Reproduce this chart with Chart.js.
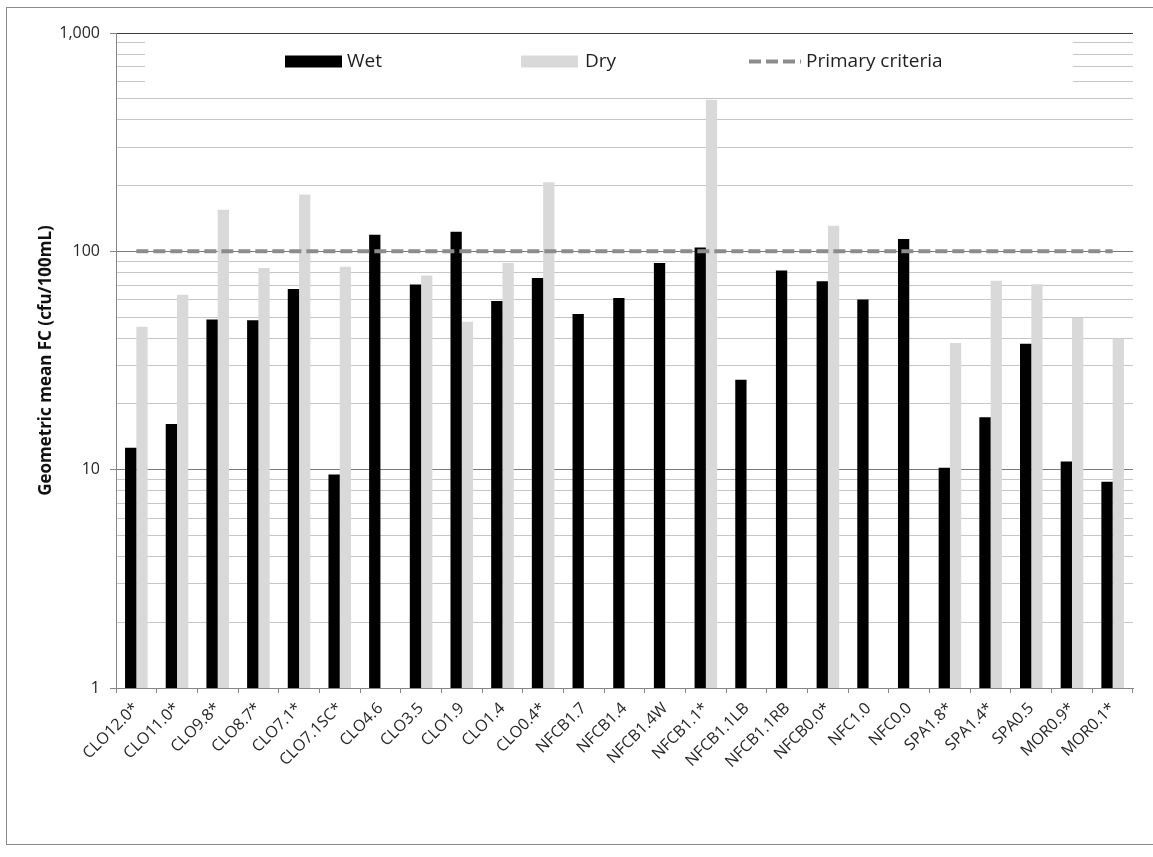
<!DOCTYPE html>
<html>
<head>
<meta charset="utf-8">
<title>Geometric mean FC by site</title>
<script src="https://cdn.jsdelivr.net/npm/chart.js@4.4.1/dist/chart.umd.min.js"></script>
<style>
  html, body { margin: 0; padding: 0; background: #fff; }
  #wrap { width: 1153px; height: 857px; }
</style>
</head>
<body>
<div id="wrap"><canvas id="chart" width="1153" height="857"></canvas></div>
<script>
// Sampling sites along the x axis
const sites = [
  'CLO12.0*', 'CLO11.0*', 'CLO9.8*', 'CLO8.7*', 'CLO7.1*', 'CLO7.1SC*', 'CLO4.6',
  'CLO3.5', 'CLO1.9', 'CLO1.4', 'CLO0.4*', 'NFCB1.7', 'NFCB1.4', 'NFCB1.4W',
  'NFCB1.1*', 'NFCB1.1LB', 'NFCB1.1RB', 'NFCB0.0*', 'NFC1.0', 'NFC0.0',
  'SPA1.8*', 'SPA1.4*', 'SPA0.5', 'MOR0.9*', 'MOR0.1*'
];

// Geometric mean fecal coliform, cfu/100mL
const wet = [
  12.6, 16.2, 48.7, 48.3, 67.3, 9.5, 119,
  70.4, 123, 59.3, 75.5, 51.7, 61.2, 88.5,
  104, 25.8, 81.8, 72.9, 60.1, 114,
  10.2, 17.4, 37.7, 10.9, 8.8
];
const dry = [
  45.1, 63.3, 155, 83.9, 182, 84.9, null,
  77.4, 47.6, 88.5, 207, null, null, null,
  495, null, null, 131, null, null,
  38.0, 73.4, 70.6, 49.5, 39.8
];

// Primary contact criterion (geometric mean, cfu/100mL)
const criteria = sites.map(() => 100);

// Labelled decades on the log axis
const yTickLabels = [1, 10, 100, 1000];

const FONT = '"Open Sans", Lato, "Liberation Sans", sans-serif';

// Full set of log gridline values: 1..9 within each labelled decade
function logGridValues(decades) {
  const out = [];
  for (let i = 0; i < decades.length - 1; i++) {
    for (let m = 1; m < 10; m++) out.push(m * decades[i]);
  }
  out.push(decades[decades.length - 1]);
  return out;
}
const isDecade = v => yTickLabels.includes(v);

// White page with a thin frame around the chart
const framePlugin = {
  id: 'frame',
  beforeDraw(chart) {
    const ctx = chart.ctx;
    ctx.save();
    ctx.fillStyle = '#ffffff';
    ctx.fillRect(0, 0, chart.width, chart.height);
    ctx.strokeStyle = '#8a8a8a';
    ctx.lineWidth = 1;
    ctx.strokeRect(6.5, 7.5, chart.width + 20, 837);
    ctx.restore();
  }
};

// Legend drawn on a white panel inside the top of the plot area
const insetLegend = {
  id: 'insetLegend',
  beforeDatasetsDraw(chart) {
    const ctx = chart.ctx;
    const area = chart.chartArea;
    const ds = chart.data.datasets;
    ctx.save();
    ctx.fillStyle = '#ffffff';
    ctx.fillRect(area.left + 29, area.top + 4, area.right - area.left - 89, 52);

    const y = area.top + 28.5;
    ctx.font = '19px ' + FONT;
    ctx.textBaseline = 'middle';
    ctx.textAlign = 'left';

    // Wet
    ctx.fillStyle = ds[0].backgroundColor;
    ctx.fillRect(285, y - 6, 57, 12);
    ctx.fillStyle = '#1f1f1f';
    ctx.fillText(ds[0].label, 347, y);

    // Dry
    ctx.fillStyle = ds[1].backgroundColor;
    ctx.fillRect(521, y - 6, 57, 12);
    ctx.fillStyle = '#1f1f1f';
    ctx.fillText(ds[1].label, 585, y);

    // Criteria line sample
    ctx.strokeStyle = ds[2].borderColor;
    ctx.lineWidth = ds[2].borderWidth;
    ctx.setLineDash(ds[2].borderDash);
    ctx.beginPath();
    ctx.moveTo(749, y);
    ctx.lineTo(801, y);
    ctx.stroke();
    ctx.setLineDash([]);
    ctx.fillText(ds[2].label, 806, y);
    ctx.restore();
  }
};

new Chart(document.getElementById('chart'), {
  data: {
    labels: sites,
    datasets: [
      {
        type: 'bar', label: 'Wet', data: wet,
        backgroundColor: '#000000',
        barPercentage: 1.0, categoryPercentage: 0.555, order: 2
      },
      {
        type: 'bar', label: 'Dry', data: dry,
        backgroundColor: '#d9d9d9',
        barPercentage: 1.0, categoryPercentage: 0.555, order: 2
      },
      {
        type: 'line', label: 'Primary criteria', data: criteria,
        borderColor: '#8c8c8c', borderWidth: 4, borderDash: [12, 5],
        pointRadius: 0, fill: false, tension: 0, order: 1
      }
    ]
  },
  options: {
    responsive: false,
    animation: false,
    devicePixelRatio: 1,
    layout: { padding: { left: 36, top: 33, right: 20, bottom: 0 } },
    plugins: {
      legend: { display: false },
      tooltip: { enabled: false }
    },
    scales: {
      x: {
        afterFit(scale) { scale.height = 169; },
        grid: {
          offset: true, drawOnChartArea: false, drawTicks: true,
          tickLength: 5, color: '#868686'
        },
        border: { color: '#868686' },
        ticks: {
          autoSkip: false, minRotation: 45, maxRotation: 45, padding: 6,
          color: '#262626', font: { family: FONT, size: 16 }
        }
      },
      y: {
        type: 'logarithmic', min: 1, max: 1000,
        afterFit(scale) { scale.width = 80; },
        afterBuildTicks(scale) {
          scale.ticks = logGridValues(yTickLabels).map(v => ({ value: v, major: isDecade(v) }));
        },
        grid: {
          color: c => {
            const v = c.tick && c.tick.value;
            if (v === 1000) return '#3c3c3c';
            return isDecade(v) ? '#7a7a7a' : '#c6c6c6';
          },
          tickColor: c => (c.tick && isDecade(c.tick.value)) ? '#868686' : 'rgba(0,0,0,0)',
          tickLength: 6,
          lineWidth: 1
        },
        border: { color: '#868686' },
        ticks: {
          autoSkip: false, padding: 10,
          color: '#262626', font: { family: FONT, size: 16 },
          callback: v => isDecade(v) ? v.toLocaleString('en-US') : ''
        },
        title: {
          display: true, text: 'Geometric mean FC (cfu/100mL)',
          color: '#111111', font: { family: FONT, size: 17, weight: 'bold' },
          padding: { top: 0, bottom: 0 }
        }
      }
    }
  },
  plugins: [framePlugin, insetLegend]
});
</script>
</body>
</html>
